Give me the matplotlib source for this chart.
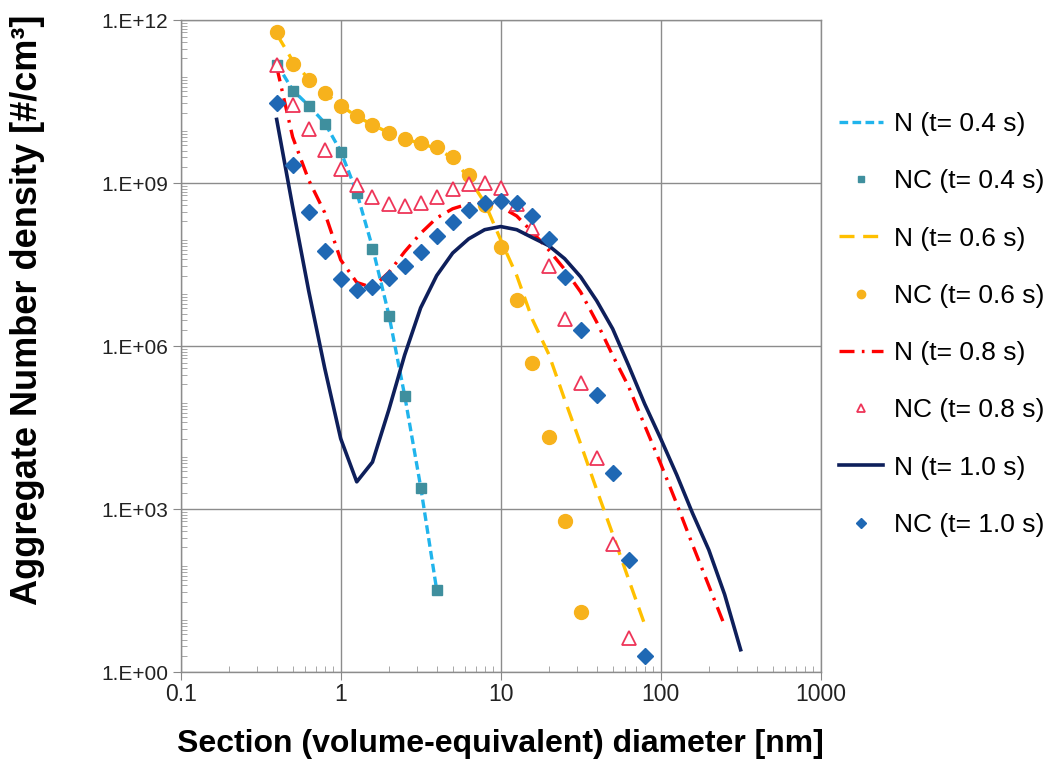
import matplotlib
matplotlib.use("Agg")
import matplotlib.pyplot as plt
from matplotlib.ticker import FixedLocator, LogLocator, NullFormatter

plt.rcParams['font.family'] = ['Liberation Sans', 'DejaVu Sans']

# section diameters [nm]
sections = [0.398, 0.501, 0.631, 0.794, 1.0, 1.26, 1.58, 2.0, 2.51, 3.16,
            3.98, 5.01, 6.31, 7.94, 10.0, 12.6, 15.8, 20.0, 25.1, 31.6,
            39.8, 50.1, 63.1, 79.4, 100.0, 126.0, 158.0, 200.0, 251.0, 316.0]

# t = 0.4 s
n_04 = [1.6e11, 5.2e10, 2.7e10, 1.3e10, 3.9e9, 6.8e8, 6.6e7, 3.8e6, 1.25e5, 2.6e3, 33]
nc_04 = [1.5e11, 4.9e10, 2.6e10, 1.26e10, 3.8e9, 6.6e8, 6.3e7, 3.6e6, 1.2e5, 2.5e3, 32]

# t = 0.6 s
n_06 = [5.6e11, 1.8e11, 8.3e10, 4.6e10, 2.7e10, 1.7e10, 1.2e10, 8.5e9, 6.6e9, 5.4e9,
        4.4e9, 2.9e9, 1.26e9, 4.4e8, 9.1e7, 2.0e7, 3.1e6, 7.1e5, 1.05e5, 1.6e4,
        2.3e3, 350, 51, 7.6]
nc_06 = [6.2e11, 1.6e11, 7.9e10, 4.6e10, 2.6e10, 1.7e10, 1.2e10, 8.3e9, 6.5e9, 5.5e9,
         4.6e9, 3.0e9, 1.4e9, 4.0e8, 6.8e7, 7.1e6, 4.9e5, 2.1e4, 600, 12.6]

# t = 0.8 s
n_08 = [1.4e11, 7.1e9, 1.15e9, 2.9e8, 3.9e7, 1.5e7, 1.2e7, 2.3e7, 5.5e7, 1.2e8,
        2.3e8, 3.4e8, 4.2e8, 4.4e8, 3.7e8, 2.5e8, 1.26e8, 5.9e7, 2.6e7, 1.0e7,
        2.8e6, 6.8e5, 1.8e5, 3.5e4, 6.9e3, 1.26e3, 224, 39, 7.2]
nc_08 = [1.5e11, 2.8e10, 1.0e10, 4.1e9, 1.8e9, 9.3e8, 5.6e8, 4.2e8, 3.8e8, 4.4e8,
         5.6e8, 7.8e8, 9.8e8, 1.0e9, 8.1e8, 4.2e8, 1.5e8, 3.0e7, 3.2e6, 2.1e5,
         8.7e3, 230, 4.3]

# t = 1.0 s
n_10 = [1.5e10, 3.7e8, 1.05e7, 4.0e5, 2.0e4, 3.2e3, 7.4e3, 6.8e4, 6.9e5, 5.1e6,
        2.0e7, 5.2e7, 9.5e7, 1.4e8, 1.6e8, 1.4e8, 1.0e8, 7.1e7, 4.1e7, 1.9e7,
        6.9e6, 2.1e6, 4.4e5, 8.7e4, 2.0e4, 4.3e3, 850, 178, 27, 2.6]
nc_10 = [3.0e10, 2.2e9, 3.0e8, 5.6e7, 1.7e7, 1.1e7, 1.26e7, 1.8e7, 3.0e7, 5.5e7,
         1.05e8, 1.9e8, 3.2e8, 4.4e8, 4.8e8, 4.3e8, 2.5e8, 9.3e7, 1.9e7, 2.0e6,
         1.26e5, 4.7e3, 117, 2.0]

y_ticks = [1e0, 1e3, 1e6, 1e9, 1e12]
y_labels = ['1.E+00', '1.E+03', '1.E+06', '1.E+09', '1.E+12']
x_ticks = [0.1, 1, 10, 100, 1000]
x_labels = ['0.1', '1', '10', '100', '1000']


def draw_series(ax):
    def xs(vals):
        return sections[:len(vals)]

    ax.plot(xs(n_04), n_04, color='#20B4EC', lw=2.4, ls=(0, (2.6, 1.3)), label='N (t= 0.4 s)')
    ax.plot(xs(nc_04), nc_04, ls='none', marker='s', ms=7, color='#3F8F9E', label='NC (t= 0.4 s)')

    ax.plot(xs(n_06), n_06, color='#FFC000', lw=2.4, ls=(0, (4.5, 2.6)), label='N (t= 0.6 s)')
    ax.plot(xs(nc_06), nc_06, ls='none', marker='o', ms=10, color='#F7B21C', label='NC (t= 0.6 s)')

    ax.plot(xs(n_08), n_08, color='#FF0000', lw=2.4, ls=(0, (4.5, 2.2, 0.8, 2.2)), label='N (t= 0.8 s)')
    ax.plot(xs(nc_08), nc_08, ls='none', marker='^', ms=10, mfc='white', mec='#EE3558',
            mew=1.3, label='NC (t= 0.8 s)')

    ax.plot(xs(n_10), n_10, color='#0E1F5B', lw=2.6, ls='-', label='N (t= 1.0 s)')
    ax.plot(xs(nc_10), nc_10, ls='none', marker='D', ms=8, color='#1F68B4', label='NC (t= 1.0 s)')


def style_axes(ax):
    ax.set_xscale('log')
    ax.set_yscale('log')
    ax.set_xlim(0.1, 1000)
    ax.set_ylim(1, 1e12)

    ax.xaxis.set_major_locator(FixedLocator(x_ticks))
    ax.set_xticklabels(x_labels)
    ax.yaxis.set_major_locator(FixedLocator(y_ticks))
    ax.set_yticklabels(y_labels)
    ax.xaxis.set_minor_locator(LogLocator(base=10, subs=range(2, 10), numticks=20))
    ax.yaxis.set_minor_locator(LogLocator(base=10, subs=range(2, 10), numticks=20))
    ax.xaxis.set_minor_formatter(NullFormatter())
    ax.yaxis.set_minor_formatter(NullFormatter())

    ax.tick_params(which='major', direction='out', length=6, color='#888888',
                   labelcolor='#222222')
    ax.tick_params(axis='y', which='major', labelsize=15, pad=3)
    ax.tick_params(axis='x', which='major', labelsize=16.5, pad=2)
    ax.tick_params(which='minor', direction='in', length=4, color='#999999')

    ax.grid(True, which='major', color='#8C8C8C', lw=1)
    for sp in ax.spines.values():
        sp.set_color('#8C8C8C')
        sp.set_linewidth(1)

    ax.set_xlabel('Section (volume-equivalent) diameter [nm]', fontsize=23, fontweight='bold', labelpad=16)
    ax.set_ylabel('Aggregate Number density [#/cm³]', fontsize=26, fontweight='bold')
    ax.yaxis.set_label_coords(-0.212, 0.556)


def main():
    fig = plt.figure(figsize=(10.61, 7.61), dpi=100)
    ax = fig.add_axes([0.1703, 0.1166, 0.6032, 0.8567])
    draw_series(ax)
    style_axes(ax)

    fig.legend(loc='upper left', bbox_to_anchor=(0.768, 0.884), frameon=False,
               fontsize=19, handlelength=1.67, handletextpad=0.42, labelspacing=1.26,
               markerscale=0.6)
    fig.savefig('out.png', dpi=100)


if __name__ == '__main__':
    main()
